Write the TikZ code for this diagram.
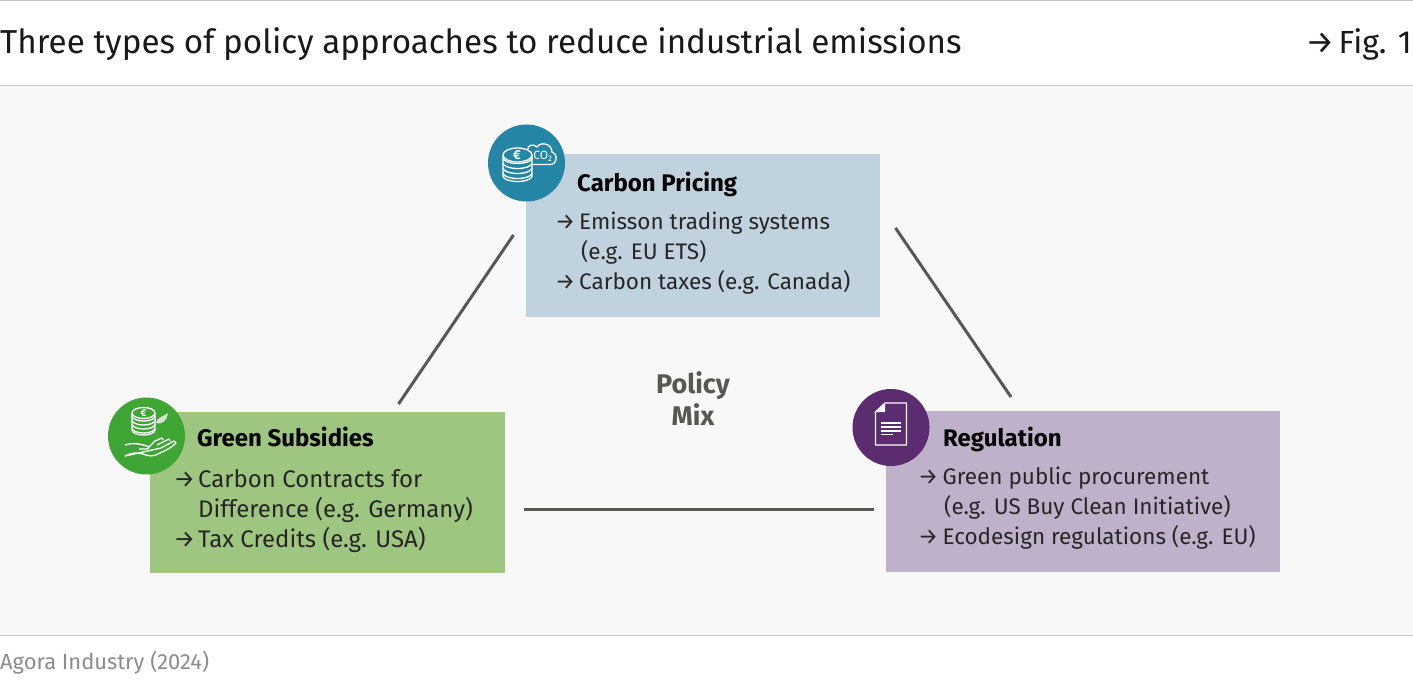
\documentclass[tikz,border=0pt]{standalone}
\usepackage{fontspec}
\setmainfont{Fira Sans}
\definecolor{panelgrey}{HTML}{F8F8F8}
\definecolor{rulegrey}{HTML}{C6C6C6}
\definecolor{linkgrey}{HTML}{575756}
\definecolor{pricefill}{HTML}{C0D2DD}
\definecolor{priceicon}{HTML}{2585A4}
\definecolor{subfill}{HTML}{9EC680}
\definecolor{subicon}{HTML}{3FA535}
\definecolor{regfill}{HTML}{C0B1CB}
\definecolor{regicon}{HTML}{5B2C6F}
\newcommand{\arrowitem}[1]{\makebox[#1][l]{→}}
\tikzset{
	boxlabel/.style={anchor=north west, inner sep=0pt, font=\fontsize{22.5}{30}\selectfont, align=left, text=black!85},
	boxhead/.style={anchor=west, inner sep=0pt, font=\fontsize{24}{28}\selectfont\bfseries, text=black},
	iconline/.style={draw=white, line width=1.3pt, line join=round},
	link/.style={draw=linkgrey, line width=3pt}
}
\begin{document}
\begin{tikzpicture}[x=1pt,y=-1pt]
\useasboundingbox (0,0) rectangle (1413,684);

% frame
\fill[panelgrey] (0,86) rectangle (1413,635);
\foreach \y in {0.5,85.5,635.5}
	\draw[rulegrey, line width=1pt] (0,\y) -- (1413,\y);
\node[anchor=west, inner sep=0pt, font=\fontsize{33.2}{40}\selectfont, text=black!90] (title) at (0,44) {Three types of policy approaches to reduce industrial emissions};
\node[anchor=east, inner sep=0pt, font=\fontsize{32}{36}\selectfont, text=black!90] (fig) at (1412,44) {\makebox[33pt][l]{→}Fig. 1};
\node[anchor=west, inner sep=0pt, font=\fontsize{21.9}{24}\selectfont, text=black!45] (source) at (0,663) {Agora Industry (2024)};

% boxes
\node[fill=pricefill, minimum width=354, minimum height=163, inner sep=0pt] (pricing) at (703,235.5) {};
\node[fill=subfill, minimum width=355, minimum height=161, inner sep=0pt] (subsidies) at (327.5,492.5) {};
\node[fill=regfill, minimum width=394, minimum height=161, inner sep=0pt] (regulation) at (1083,491.5) {};

% links
\coordinate (a1) at (513.5,235);
\coordinate (a2) at (398.5,404);
\coordinate (b1) at (895.5,228);
\coordinate (b2) at (1011,397);
\coordinate (c1) at (524,509);
\coordinate (c2) at (874,509);
\draw[link] (a1) -- (a2);
\draw[link] (b1) -- (b2);
\draw[link] (c1) -- (c2);

\node[inner sep=0pt, align=center, font=\fontsize{27}{32}\selectfont\bfseries, text=linkgrey] (mix) at (693,399) {Policy\\Mix};

% texts
\node[boxhead] (pricinghead) at (577,184.5) {Carbon Pricing};
\node[boxlabel] (pricingtext) at (555,212) {\arrowitem{24pt}Emisson trading systems\\\hspace{26pt}(e.g. EU ETS)\\\arrowitem{24pt}Carbon taxes (e.g. Canada)};
\node[boxhead] (subsidieshead) at (197,436.5) {Green Subsidies};
\node[boxlabel, font=\fontsize{24}{30}\selectfont] (subsidiestext) at (173.5,469) {\arrowitem{24.5pt}Carbon Contracts for\\\hspace{24.5pt}Difference (e.g. Germany)\\\arrowitem{24.5pt}Tax Credits (e.g. USA)};
\node[boxhead] (regulationhead) at (943,439.5) {Regulation};
\node[boxlabel] (regulationtext) at (918,467) {\arrowitem{24.5pt}Green public procurement\\\hspace{26pt}(e.g. US Buy Clean Initiative)\\\arrowitem{24.5pt}Ecodesign regulations (e.g. EU)};

% icon carbon pricing
\node[circle, fill=priceicon, minimum size=77, inner sep=0pt] (pricingicon) at (526.5,163) {};
\draw[iconline] (503,155) -- (503,176) arc (180:0:14.5 and 5.5) -- (532,155);
\foreach \y in {158,163,168,173}
	\draw[iconline] (503,\y) arc (180:0:14.5 and 5.5);
\draw[iconline] (517.5,155) ellipse (14.5 and 7);
\node[inner sep=0pt, text=white, font=\fontsize{13}{13}\selectfont\bfseries] (priceeuro) at (517,155) {€};
\draw[iconline] (532,164.5) -- (550,164.5) .. controls (558,164.5) and (558,153) .. (552,152) .. controls (552,144) and (541,141) .. (537,147) .. controls (533,143) and (527,146) .. (528,149);
\node[inner sep=0pt, text=white, font=\fontsize{12}{12}\selectfont] (co) at (543,156) {CO\textsubscript{2}};

% icon green subsidies
\node[circle, fill=subicon, minimum size=77, inner sep=0pt] (subsidiesicon) at (146.5,436) {};
\draw[iconline] (132,413) -- (132,430) arc (180:0:11.5 and 5) -- (155,413);
\foreach \y in {416,420,424,428}
	\draw[iconline] (132,\y) arc (180:0:11.5 and 5);
\draw[iconline] (143.5,413) ellipse (11.5 and 5.5);
\node[inner sep=0pt, text=white, font=\fontsize{10}{10}\selectfont\bfseries] (subeuro) at (143.5,413) {€};
\fill[white!75!subicon] (156,423) .. controls (157,417) and (163,417) .. (168,413) .. controls (167,420) and (163,425) .. (156,423) -- cycle;
\draw[iconline] (125,445) .. controls (131,443) and (137,443) .. (147,446) .. controls (150,447) and (149,449) .. (147,449) -- (139,449);
\draw[iconline] (149,447) -- (155,441) -- (162,438) -- (163,440) (157,445) -- (169,439) -- (170,441) (161,448) -- (174,441) -- (176,443) .. controls (170,449) and (164,451) .. (158,454) .. controls (153,457) and (148,456) .. (143,454) .. controls (137,452) and (131,453) .. (125,456) -- cycle;

% icon regulation
\node[circle, fill=regicon, minimum size=77, inner sep=0pt] (regulationicon) at (891,427.5) {};
\draw[iconline] (885,403) -- (906.5,403) -- (906.5,445) -- (875.5,445) -- (875.5,412) -- cycle;
\fill[white] (885,403) -- (885,412) -- (875.5,412) -- cycle;
\foreach \y in {423,427,431}
	\draw[white, line width=1.2pt] (881,\y) -- (901,\y);
\draw[white, line width=1.2pt] (881,434.5) -- (893,434.5);

\end{tikzpicture}
\end{document}
